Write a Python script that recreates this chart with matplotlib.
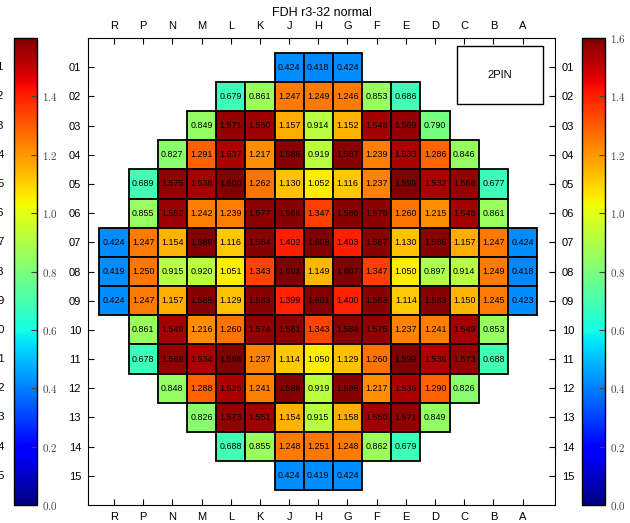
import numpy as np
import matplotlib
matplotlib.use("Agg")
import matplotlib.pyplot as plt
from matplotlib.patches import Rectangle
from matplotlib.colors import Normalize
from matplotlib.colorbar import ColorbarBase

plt.rcParams['font.family'] = ['Liberation Sans', 'DejaVu Sans']
plt.rcParams['mathtext.fontset'] = 'cm'

cols = ['R', 'P', 'N', 'M', 'L', 'K', 'J', 'H', 'G', 'F', 'E', 'D', 'C', 'B', 'A']
rows = ['%02d' % i for i in range(1, 16)]

# first column index of each row
row_start = [6, 4, 3, 2, 1, 1, 0, 0, 0, 1, 1, 2, 3, 4, 6]

fdh = [
    [0.424, 0.418, 0.424],
    [0.679, 0.861, 1.247, 1.249, 1.246, 0.853, 0.686],
    [0.849, 1.571, 1.550, 1.157, 0.914, 1.152, 1.548, 1.569, 0.790],
    [0.827, 1.291, 1.537, 1.217, 1.586, 0.919, 1.587, 1.239, 1.533, 1.286, 0.846],
    [0.689, 1.575, 1.538, 1.600, 1.262, 1.130, 1.052, 1.116, 1.237, 1.595, 1.532, 1.568, 0.677],
    [0.855, 1.552, 1.242, 1.239, 1.577, 1.586, 1.347, 1.586, 1.578, 1.260, 1.215, 1.548, 0.861],
    [0.424, 1.247, 1.154, 1.589, 1.116, 1.584, 1.402, 1.608, 1.403, 1.587, 1.130, 1.586, 1.157, 1.247, 0.424],
    [0.419, 1.250, 0.915, 0.920, 1.051, 1.343, 1.601, 1.149, 1.607, 1.347, 1.050, 0.897, 0.914, 1.249, 0.418],
    [0.424, 1.247, 1.157, 1.585, 1.129, 1.583, 1.399, 1.601, 1.400, 1.583, 1.114, 1.583, 1.150, 1.245, 0.423],
    [0.861, 1.549, 1.216, 1.260, 1.574, 1.581, 1.343, 1.584, 1.575, 1.237, 1.241, 1.549, 0.853],
    [0.678, 1.569, 1.534, 1.598, 1.237, 1.114, 1.050, 1.129, 1.260, 1.599, 1.536, 1.573, 0.688],
    [0.848, 1.288, 1.535, 1.241, 1.588, 0.919, 1.586, 1.217, 1.536, 1.290, 0.826],
    [0.826, 1.573, 1.551, 1.154, 0.915, 1.158, 1.550, 1.571, 0.849],
    [0.688, 0.855, 1.248, 1.251, 1.248, 0.862, 0.679],
    [0.424, 0.419, 0.424],
]

cmap = plt.get_cmap('jet')
norm = Normalize(vmin=0.0, vmax=1.6)

fig = plt.figure(figsize=(6.3, 5.23), dpi=100)
ax = fig.add_axes([0.1397, 0.0344, 0.7413, 0.8929])

for r, (start, vals) in enumerate(zip(row_start, fdh)):
    for k, v in enumerate(vals):
        c = start + k
        x, y = c + 1, r + 1
        ax.add_patch(Rectangle((x - 0.5, y - 0.5), 1, 1, facecolor=cmap(norm(v)),
                               edgecolor='black', linewidth=1.3))
        ax.text(x, y, '%.3f' % v, ha='center', va='center', fontsize=6.4)

# pin legend box
ax.add_patch(Rectangle((12.75, 0.27), 2.94, 1.99, facecolor='white',
                       edgecolor='black', linewidth=1.0))
ax.text(14.22, 1.27, '2PIN', ha='center', va='center', fontsize=8)

ax.set_xlim(0.11, 16.11)
ax.set_ylim(16.0, 0.0)
ax.set_xticks(np.arange(1, 16))
ax.set_xticklabels(cols)
ax.set_yticks(np.arange(1, 16))
ax.set_yticklabels(rows)
ax.tick_params(direction='in', length=4, labelsize=8, top=True, right=True,
               labeltop=True, labelright=True, pad=5)
ax.set_title('FDH r3-32 normal', fontsize=9, pad=16)

# row labels of the neighbouring panel, running off the left edge
for r, lab in enumerate(rows):
    yf = 0.0344 + 0.8929 * (16.0 - (r + 1)) / 16.0
    fig.text(4.5 / 630, yf, lab, ha='right', va='center', fontsize=8)

ticks = np.arange(0.0, 1.61, 0.2)
for xpos, tk in [(0.0222, ticks[:-1]), (0.9238, ticks)]:
    cax = fig.add_axes([xpos, 0.0344, 0.0365, 0.8929])
    cb = ColorbarBase(cax, cmap=cmap, norm=norm, orientation='vertical')
    cb.set_ticks(tk)
    cb.set_ticklabels(['$%.1f$' % t for t in tk])
    cax.tick_params(direction='in', length=4, labelsize=8, colors='#444444')
    cb.outline.set_linewidth(1.0)

fig.savefig('out.png', dpi=100)
